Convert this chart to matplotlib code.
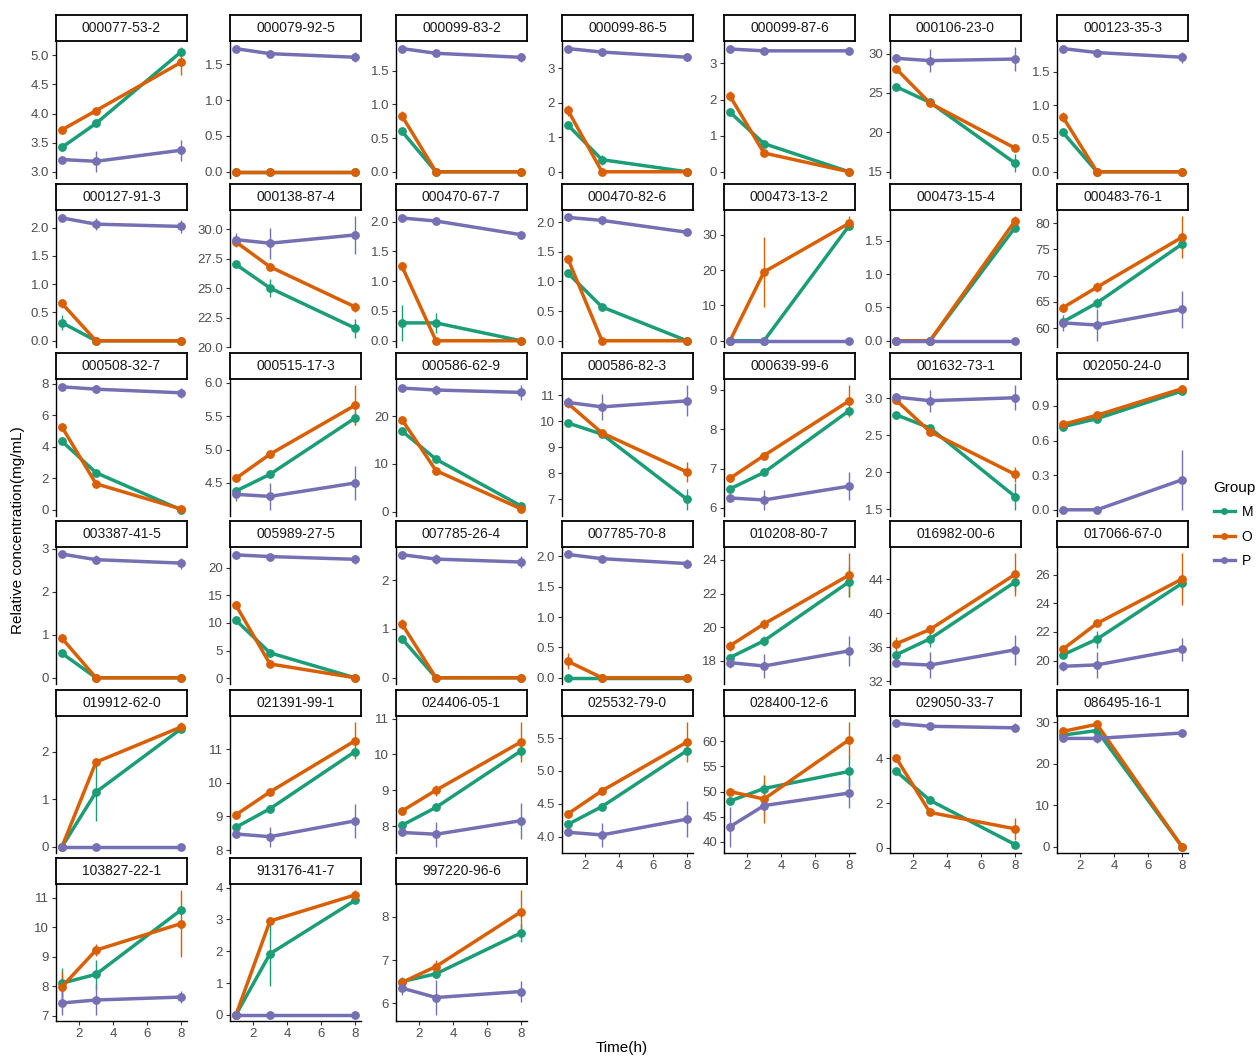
import matplotlib
matplotlib.use("Agg")
import matplotlib.pyplot as plt
from matplotlib.lines import Line2D
import numpy as np

plt.rcParams['font.family'] = ['Liberation Sans', 'DejaVu Sans']

# sampling times (h)
times = [1, 3, 8]
groups = ["M", "O", "P"]
colors = {"M": "#1B9E77", "O": "#D95F02", "P": "#7570B3"}

compounds = ["000077-53-2", "000079-92-5", "000099-83-2", "000099-86-5", "000099-87-6", "000106-23-0", "000123-35-3",
             "000127-91-3", "000138-87-4", "000470-67-7", "000470-82-6", "000473-13-2", "000473-15-4", "000483-76-1",
             "000508-32-7", "000515-17-3", "000586-62-9", "000586-82-3", "000639-99-6", "001632-73-1", "002050-24-0",
             "003387-41-5", "005989-27-5", "007785-26-4", "007785-70-8", "010208-80-7", "016982-00-6", "017066-67-0",
             "019912-62-0", "021391-99-1", "024406-05-1", "025532-79-0", "028400-12-6", "029050-33-7", "086495-16-1",
             "103827-22-1", "913176-41-7", "997220-96-6"]

# group M: mean and se at 1, 3, 8 h
m_mean = [
    [3.42, 3.83, 5.06], [0, 0, 0], [0.60, 0, 0], [1.35, 0.35, 0], [1.65, 0.78, 0], [25.8, 23.8, 16.1], [0.59, 0, 0],
    [0.32, 0, 0], [27.0, 25.0, 21.6], [0.30, 0.30, 0], [1.14, 0.57, 0], [0, 0, 32.6], [0, 0, 1.70], [61.2, 64.8, 76.0],
    [4.35, 2.35, 0], [4.38, 4.63, 5.47], [16.9, 11.0, 1.2], [9.93, 9.50, 7.0], [6.48, 6.90, 8.47], [2.78, 2.60, 1.67], [0.72, 0.79, 1.03],
    [0.57, 0, 0], [10.5, 4.6, 0.1], [0.80, 0, 0], [0, 0, 0], [18.2, 19.2, 22.7], [35.1, 37.0, 43.7], [20.4, 21.5, 25.4],
    [0, 1.15, 2.48], [8.68, 9.23, 10.93], [8.02, 8.52, 10.10], [4.19, 4.46, 5.31], [48.1, 50.6, 54.0], [3.42, 2.12, 0.15], [26.9, 28.0, 0],
    [8.10, 8.40, 10.58], [0, 1.92, 3.60], [6.50, 6.68, 7.63]]
m_se = [
    [0.07, 0.05, 0.08], [0, 0, 0], [0.02, 0, 0], [0.05, 0.15, 0], [0.03, 0.05, 0], [0.2, 0.3, 1.1], [0.02, 0, 0],
    [0.13, 0, 0], [0.2, 0.8, 0.8], [0.3, 0.17, 0], [0.05, 0.03, 0], [0, 0, 1.0], [0, 0, 0.03], [0.5, 1.0, 1.0],
    [0.1, 0.1, 0], [0.05, 0.05, 0.1], [0.3, 0.3, 0.3], [0.05, 0.08, 0.4], [0.05, 0.07, 0.1], [0.03, 0.04, 0.18], [0.02, 0.02, 0.02],
    [0.03, 0, 0], [0.3, 0.2, 0], [0.03, 0, 0], [0, 0, 0], [0.2, 0.3, 0.9], [0.5, 1.0, 1.0], [0.2, 0.6, 0.4],
    [0, 0.6, 0.05], [0.07, 0.1, 0.15], [0.05, 0.1, 0.2], [0.04, 0.05, 0.05], [0.8, 1.0, 3.0], [0.1, 0.07, 0.1], [0.5, 1.0, 0],
    [0.5, 0.5, 0.1], [0, 1.0, 0.05], [0.1, 0.1, 0.2]]

# group O
o_mean = [
    [3.72, 4.05, 4.88], [0, 0, 0], [0.83, 0, 0], [1.78, 0, 0], [2.10, 0.52, 0], [28.1, 23.7, 18.0], [0.82, 0, 0],
    [0.66, 0, 0], [28.9, 26.8, 23.4], [1.25, 0, 0], [1.38, 0, 0], [0, 19.5, 33.3], [0, 0, 1.80], [63.9, 67.8, 77.3],
    [5.25, 1.65, 0.05], [4.57, 4.93, 5.66], [19.3, 8.6, 0.6], [10.68, 9.55, 8.05], [6.75, 7.33, 8.72], [2.98, 2.55, 1.97], [0.74, 0.82, 1.05],
    [0.92, 0, 0], [13.2, 2.6, 0.1], [1.10, 0, 0], [0.27, 0, 0], [18.9, 20.2, 23.1], [36.4, 38.1, 44.6], [20.8, 22.6, 25.7],
    [0, 1.78, 2.52], [9.05, 9.73, 11.25], [8.42, 9.00, 10.35], [4.35, 4.70, 5.44], [50.0, 48.5, 60.3], [4.02, 1.58, 0.85], [27.8, 29.5, 0],
    [7.98, 9.22, 10.12], [0, 2.95, 3.77], [6.48, 6.85, 8.12]]
o_se = [
    [0.05, 0.03, 0.22], [0, 0, 0], [0.07, 0, 0], [0.15, 0, 0], [0.15, 0.04, 0], [0.3, 0.2, 0.3], [0.08, 0, 0],
    [0.08, 0, 0], [0.2, 0.3, 0.4], [0.08, 0, 0], [0.07, 0, 0], [0, 10.0, 2.0], [0, 0, 0.07], [0.8, 1.0, 4.0],
    [0.2, 0.1, 0.05], [0.03, 0.05, 0.3], [0.6, 0.3, 0.2], [0.1, 0.07, 0.4], [0.1, 0.1, 0.4], [0.05, 0.04, 0.1], [0.02, 0.02, 0.03],
    [0.1, 0, 0], [0.7, 0.2, 0], [0.1, 0, 0], [0.13, 0, 0], [0.3, 0.3, 1.3], [0.8, 0.5, 2.5], [0.3, 0.2, 1.8],
    [0, 0.04, 0.1], [0.1, 0.1, 0.55], [0.1, 0.15, 0.55], [0.05, 0.05, 0.3], [0.7, 4.8, 3.5], [0.1, 0.07, 0.5], [0.5, 0.5, 0],
    [0.5, 0.2, 1.13], [0, 0.05, 0.15], [0.05, 0.15, 0.5]]

# group P
p_mean = [
    [3.21, 3.18, 3.37], [1.72, 1.65, 1.60], [1.83, 1.76, 1.70], [3.57, 3.47, 3.32], [3.40, 3.35, 3.35], [29.4, 29.1, 29.3], [1.85, 1.79, 1.72],
    [2.17, 2.06, 2.02], [29.1, 28.8, 29.5], [2.06, 2.01, 1.78], [2.08, 2.03, 1.83], [0, 0, 0], [0, 0, 0], [61.0, 60.6, 63.6],
    [7.8, 7.65, 7.42], [4.33, 4.30, 4.50], [25.9, 25.5, 25.0], [10.72, 10.55, 10.78], [6.25, 6.20, 6.55], [3.02, 2.97, 3.01], [0, 0, 0.26],
    [2.88, 2.75, 2.67], [22.3, 22.0, 21.5], [2.52, 2.43, 2.37], [2.03, 1.96, 1.88], [17.9, 17.7, 18.6], [34.1, 33.9, 35.7], [19.6, 19.7, 20.8],
    [0, 0, 0], [8.48, 8.40, 8.87], [7.82, 7.77, 8.15], [4.07, 4.03, 4.27], [43.0, 47.2, 49.7], [5.55, 5.42, 5.35], [26.1, 26.1, 27.4],
    [7.43, 7.53, 7.63], [0, 0, 0], [6.35, 6.13, 6.27]]
p_se = [
    [0.03, 0.18, 0.18], [0.02, 0.05, 0.07], [0.02, 0.05, 0.07], [0.04, 0.1, 0.12], [0.03, 0.08, 0.1], [0.6, 1.5, 1.5], [0.02, 0.05, 0.08],
    [0.03, 0.1, 0.12], [0.6, 1.3, 1.6], [0.03, 0.07, 0.07], [0.02, 0.07, 0.06], [0, 0, 0], [0, 0, 0], [1.5, 3.0, 3.5],
    [0.1, 0.25, 0.3], [0.1, 0.2, 0.25], [0.5, 1.0, 1.5], [0.2, 0.5, 0.6], [0.07, 0.25, 0.35], [0.06, 0.15, 0.17], [0, 0, 0.26],
    [0.02, 0.1, 0.13], [0.3, 0.6, 0.8], [0.03, 0.1, 0.12], [0.02, 0.06, 0.07], [0.3, 0.7, 0.9], [0.3, 1.5, 1.8], [0.3, 0.9, 0.8],
    [0, 0, 0], [0.1, 0.3, 0.5], [0.1, 0.35, 0.5], [0.05, 0.18, 0.27], [4.0, 1.0, 3.0], [0.05, 0.15, 0.2], [0.4, 1.0, 1.0],
    [0.4, 0.5, 0.2], [0, 0, 0], [0.15, 0.4, 0.25]]

# y tick labels per panel
y_ticks = [
    ["3.0", "3.5", "4.0", "4.5", "5.0"], ["0.0", "0.5", "1.0", "1.5"], ["0.0", "0.5", "1.0", "1.5"], ["0", "1", "2", "3"],
    ["0", "1", "2", "3"], ["15", "20", "25", "30"], ["0.0", "0.5", "1.0", "1.5"],
    ["0.0", "0.5", "1.0", "1.5", "2.0"], ["20.0", "22.5", "25.0", "27.5", "30.0"], ["0.0", "0.5", "1.0", "1.5", "2.0"],
    ["0.0", "0.5", "1.0", "1.5", "2.0"], ["0", "10", "20", "30"], ["0.0", "0.5", "1.0", "1.5"], ["60", "65", "70", "75", "80"],
    ["0", "2", "4", "6", "8"], ["4.5", "5.0", "5.5", "6.0"], ["0", "10", "20"], ["7", "8", "9", "10", "11"],
    ["6", "7", "8", "9"], ["1.5", "2.0", "2.5", "3.0"], ["0.0", "0.3", "0.6", "0.9"],
    ["0", "1", "2", "3"], ["0", "5", "10", "15", "20"], ["0", "1", "2"], ["0.0", "0.5", "1.0", "1.5", "2.0"],
    ["18", "20", "22", "24"], ["32", "36", "40", "44"], ["20", "22", "24", "26"],
    ["0", "1", "2"], ["8", "9", "10", "11"], ["8", "9", "10", "11"], ["4.0", "4.5", "5.0", "5.5"],
    ["40", "45", "50", "55", "60"], ["0", "2", "4"], ["0", "10", "20", "30"],
    ["7", "8", "9", "10", "11"], ["0", "1", "2", "3", "4"], ["6", "7", "8"]]
x_ticks = [2, 4, 6, 8]

means = {"M": m_mean, "O": o_mean, "P": p_mean}
ses = {"M": m_se, "O": o_se, "P": p_se}

W, H = 1258, 1058
fig = plt.figure(figsize=(W / 100, H / 100), dpi=100)

col_x = [56, 230, 396, 562, 724, 890, 1057]
row_y = [15, 184, 353, 521, 690, 858]
pw, ph, sh = 131, 137, 26

for i, name in enumerate(compounds):
    r, c = divmod(i, 7)
    x0 = col_x[c]
    top = row_y[r]
    ax = fig.add_axes([x0 / W, 1 - (top + sh + ph) / H, pw / W, ph / H])

    lo, hi = [], []
    for g in groups:
        mu = np.array(means[g][i])
        se = np.array(ses[g][i])
        lo.append((mu - se).min())
        hi.append((mu + se).max())
        ax.vlines(times, mu - se, mu + se, color=colors[g], lw=1.0, zorder=2)
    for g in groups:
        ax.plot(times, means[g][i], color=colors[g], lw=2.5, zorder=3,
                marker='o', ms=5.3, solid_capstyle='butt')
    lo, hi = min(lo), max(hi)
    pad = 0.05 * (hi - lo)
    ax.set_ylim(lo - pad, hi + pad)
    ax.set_xlim(0.65, 8.35)

    ax.set_yticks([float(t) for t in y_ticks[i]])
    ax.set_yticklabels(y_ticks[i])
    ax.tick_params(axis='y', length=3, width=0.8, pad=2, labelsize=9.5, labelcolor='#4D4D4D', color='#333333')

    ax.spines['top'].set_visible(False)
    ax.spines['right'].set_visible(False)
    ax.spines['left'].set_linewidth(1.0)

    bottom = (r == 5) or (r == 4 and c >= 3)
    if bottom:
        ax.set_xticks(x_ticks)
        ax.tick_params(axis='x', length=3, width=0.8, pad=2, labelsize=9.5, labelcolor='#4D4D4D', color='#333333')
        ax.spines['bottom'].set_linewidth(1.0)
    else:
        ax.set_xticks([])
        ax.spines['bottom'].set_visible(False)

    # facet strip
    sax = fig.add_axes([x0 / W, 1 - (top + sh) / H, pw / W, sh / H])
    sax.set_xticks([])
    sax.set_yticks([])
    for s in sax.spines.values():
        s.set_linewidth(1.3)
        s.set_color('black')
    sax.text(0.5, 0.5, name, ha='center', va='center', fontsize=10, color='#1A1A1A', transform=sax.transAxes)

fig.text(18 / W, 1 - 530 / H, "Relative concentration(mg/mL)", rotation=90, ha='center', va='center', fontsize=11)
fig.text(622 / W, 1 - 1048 / H, "Time(h)", ha='center', va='center', fontsize=11)

handles = [Line2D([], [], color=colors[g], lw=2.4, marker='o', ms=4) for g in groups]
leg = fig.legend(handles, groups, title="Group", loc='upper left', bbox_to_anchor=(1204 / W, 1 - 471 / H),
                 frameon=False, fontsize=10, title_fontsize=11, handlelength=1.5, handletextpad=0.5,
                 labelspacing=0.75, borderaxespad=0.3)
leg._legend_box.align = "left"

fig.savefig("out.png", dpi=100, facecolor='white')
